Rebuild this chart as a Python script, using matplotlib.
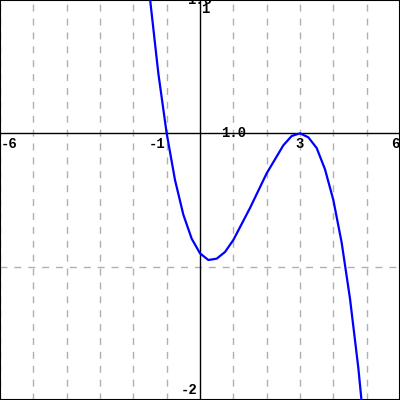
import matplotlib
matplotlib.use("Agg")
import matplotlib.pyplot as plt

# Curve points
xs = [-1.6, -1.5, -1.25, -1.0, -0.75, -0.5, -0.25, 0.0, 0.25, 0.5, 0.75, 1.0,
      1.5, 2.0, 2.5, 2.75, 3.0, 3.25, 3.5, 3.75, 4.0, 4.25, 4.5, 4.75, 5.0]
ys = [1.18, 1.01, 0.45, 0.0, -0.35, -0.61, -0.79, -0.90, -0.95, -0.94, -0.89, -0.80,
      -0.56, -0.30, -0.09, -0.02, 0.0, -0.03, -0.11, -0.27, -0.50, -0.82, -1.24, -1.76, -2.40]

x_grid = [-6, -5, -4, -3, -2, -1, 1, 2, 3, 4, 5, 6]
y_grid = [-1]
x_min, x_max = -6, 6
y_min, y_max = -2, 1

fig = plt.figure(figsize=(4, 4), dpi=100)
ax = fig.add_axes([0, 0, 1, 1])
ax.set_xlim(x_min, x_max)
ax.set_ylim(y_min, y_max)
ax.set_xticks([])
ax.set_yticks([])
for s in ax.spines.values():
    s.set_color("black")
    s.set_linewidth(1.5)

for gx in x_grid:
    ax.axvline(gx, color="#b0b0b0", lw=1, ls=(0, (5, 5)), zorder=1)
for gy in y_grid:
    ax.axhline(gy, color="#b0b0b0", lw=1, ls=(0, (5, 5)), zorder=1)

ax.axhline(0, color="black", lw=1, zorder=2)
ax.axvline(0, color="black", lw=1, zorder=2)

ax.plot(xs, ys, color="#0000ff", lw=1.6, zorder=3)

fp = dict(family="Liberation Mono", fontweight="bold", fontsize=10, color="black", zorder=4)
ax.text(-5.99, -0.03, "-6", ha="left", va="top", **fp)
ax.text(-1.03, -0.03, "-1", ha="right", va="top", **fp)
ax.text(1.0, 0.0, "1.0", ha="center", va="center", **fp)
ax.text(3.0, -0.03, "3", ha="center", va="top", **fp)
ax.text(5.99, -0.03, "6", ha="right", va="top", **fp)
ax.text(0.0, 1.0, "1.0", ha="center", va="center", **fp)
ax.text(0.03, 0.985, "1", ha="left", va="top", **fp)
ax.text(-0.08, -1.975, "-2", ha="right", va="bottom", **fp)

fig.savefig("out.png", dpi=100)
